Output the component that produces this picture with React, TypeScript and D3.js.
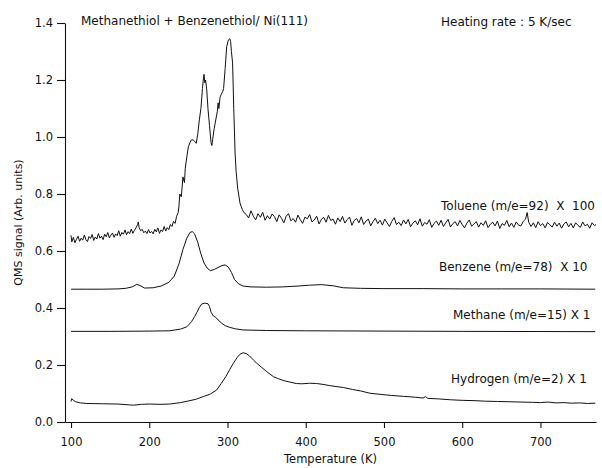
import React, { useEffect, useRef } from 'react';
import * as d3 from 'd3';

// temperature (K), signal (arb. units)
const toluene: [number, number][] = [
  [100, 0.655], [101, 0.632], [103, 0.648], [105, 0.629], [107, 0.641], [109, 0.652], [111, 0.634],
  [113, 0.645], [115, 0.638], [117, 0.656], [119, 0.64], [121, 0.633], [123, 0.651], [125, 0.644],
  [127, 0.658], [129, 0.637], [131, 0.649], [133, 0.642], [135, 0.661], [137, 0.645], [139, 0.652],
  [141, 0.64], [143, 0.659], [145, 0.65], [147, 0.665], [149, 0.646], [151, 0.656], [153, 0.663],
  [155, 0.648], [157, 0.66], [159, 0.654], [161, 0.671], [163, 0.652], [165, 0.665], [167, 0.659],
  [169, 0.674], [171, 0.657], [173, 0.668], [175, 0.661], [177, 0.677], [179, 0.662], [181, 0.672],
  [183, 0.681], [185, 0.692], [186, 0.702], [187, 0.683], [189, 0.671], [191, 0.676], [193, 0.664],
  [195, 0.67], [197, 0.661], [199, 0.675], [201, 0.663], [203, 0.669], [205, 0.66], [207, 0.676],
  [209, 0.667], [211, 0.681], [213, 0.662], [215, 0.674], [217, 0.668], [219, 0.686], [221, 0.67],
  [223, 0.682], [225, 0.675], [227, 0.693], [229, 0.686], [231, 0.704], [233, 0.697], [235, 0.722],
  [237, 0.735], [238, 0.758],
  [239, 0.8], [241, 0.79], [243, 0.86], [245, 0.84], [246, 0.89], [248, 0.93], [250, 0.966],
  [252, 0.98], [254, 0.99], [256, 0.99], [258, 0.985], [260, 0.978], [262, 1.01], [264, 1.06],
  [266, 1.1], [268, 1.17], [269, 1.2], [270, 1.22], [271, 1.19], [272, 1.2], [273.5, 1.165],
  [275, 1.1], [277, 1.04], [279, 0.98], [280, 0.97], [281, 0.99], [283, 1.03], [285, 1.06],
  [287, 1.09], [288, 1.12], [289, 1.1], [290.5, 1.14], [292, 1.15], [294, 1.16], [295, 1.17],
  [297, 1.24], [299, 1.317], [301, 1.34], [303, 1.345], [304, 1.335], [305, 1.3], [306.5, 1.26],
  [308, 1.1], [309.7, 0.944], [311, 0.88], [313, 0.82], [316, 0.768], [319, 0.745], [321, 0.735],
  [324, 0.728], [327, 0.716], [330, 0.741], [333, 0.722], [336, 0.709], [339, 0.731], [342, 0.718],
  [345, 0.736], [348, 0.708], [351, 0.724], [354, 0.712], [357, 0.73], [360, 0.721], [363, 0.703],
  [366, 0.727], [369, 0.715], [372, 0.699], [375, 0.722], [378, 0.731], [381, 0.706], [384, 0.714],
  [387, 0.701], [390, 0.726], [393, 0.71], [396, 0.697], [399, 0.719], [402, 0.713], [405, 0.728],
  [408, 0.702], [411, 0.709], [414, 0.722], [417, 0.695], [420, 0.711], [423, 0.718], [426, 0.701],
  [429, 0.725], [432, 0.707], [435, 0.712], [438, 0.694], [441, 0.716], [444, 0.703], [447, 0.721],
  [450, 0.698], [453, 0.71], [456, 0.719], [459, 0.69], [462, 0.707], [465, 0.714], [468, 0.699],
  [471, 0.72], [474, 0.693], [477, 0.705], [480, 0.712], [483, 0.688], [486, 0.703], [489, 0.715],
  [492, 0.696], [495, 0.708], [498, 0.691], [501, 0.712], [504, 0.699], [507, 0.686], [510, 0.704],
  [513, 0.717], [516, 0.693], [519, 0.701], [522, 0.689], [525, 0.709], [528, 0.695], [531, 0.711],
  [534, 0.685], [537, 0.698], [540, 0.706], [543, 0.692], [546, 0.713], [549, 0.687], [552, 0.7],
  [555, 0.694], [558, 0.71], [561, 0.683], [564, 0.697], [567, 0.705], [570, 0.69], [573, 0.708],
  [576, 0.686], [579, 0.699], [582, 0.711], [585, 0.684], [588, 0.696], [591, 0.703], [594, 0.688],
  [597, 0.707], [600, 0.693], [603, 0.681], [606, 0.698], [609, 0.709], [612, 0.687], [615, 0.695],
  [618, 0.703], [621, 0.684], [624, 0.699], [627, 0.69], [630, 0.706], [633, 0.682], [636, 0.694],
  [639, 0.701], [642, 0.688], [645, 0.705], [648, 0.679], [651, 0.696], [654, 0.69], [657, 0.707],
  [660, 0.685], [663, 0.698], [666, 0.683], [669, 0.702], [672, 0.691], [675, 0.688], [678, 0.704],
  [681, 0.712], [683, 0.735], [685, 0.701], [688, 0.686], [691, 0.699], [694, 0.682], [697, 0.703],
  [700, 0.689], [703, 0.696], [706, 0.681], [709, 0.7], [712, 0.692], [715, 0.684], [718, 0.701],
  [721, 0.687], [724, 0.698], [727, 0.68], [730, 0.695], [733, 0.702], [736, 0.685], [739, 0.697],
  [742, 0.681], [745, 0.699], [748, 0.69], [751, 0.683], [754, 0.702], [757, 0.688], [760, 0.694],
  [763, 0.68], [766, 0.699], [769, 0.689], [771, 0.693],
];

const benzene: [number, number][] = [
  [100, 0.466], [120, 0.466], [140, 0.466], [160, 0.467], [170, 0.469], [178, 0.474], [184, 0.483],
  [188, 0.479], [194, 0.47], [205, 0.471], [215, 0.477], [225, 0.49], [232, 0.512], [238, 0.555],
  [243, 0.605], [248, 0.645], [252, 0.665], [255, 0.668], [258, 0.66], [262, 0.63], [266, 0.59],
  [270, 0.558], [274, 0.54], [278, 0.531], [283, 0.535], [288, 0.542], [293, 0.549], [297, 0.551],
  [301, 0.544], [305, 0.525], [309, 0.5], [314, 0.485], [320, 0.477], [330, 0.474], [350, 0.473],
  [370, 0.474], [390, 0.477], [405, 0.48], [420, 0.482], [435, 0.478], [448, 0.471], [470, 0.469],
  [500, 0.468], [550, 0.468], [600, 0.467], [650, 0.467], [700, 0.467], [770, 0.466],
];

const methane: [number, number][] = [
  [100, 0.318], [150, 0.318], [200, 0.319], [226, 0.32], [240, 0.326], [248, 0.334], [254, 0.352],
  [258, 0.37], [261, 0.385], [264, 0.402], [267, 0.414], [271, 0.417], [275, 0.415], [277, 0.405],
  [279, 0.385], [282, 0.372], [285, 0.367], [288, 0.358], [292, 0.348], [297, 0.338], [303, 0.332],
  [310, 0.327], [320, 0.323], [350, 0.321], [400, 0.32], [500, 0.319], [600, 0.318], [770, 0.317],
];

const hydrogen: [number, number][] = [
  [100, 0.072], [101, 0.082], [103, 0.076], [106, 0.071], [112, 0.067], [120, 0.065], [140, 0.064],
  [160, 0.063], [175, 0.06], [180, 0.059], [190, 0.062], [200, 0.063], [215, 0.062], [226, 0.063],
  [240, 0.068], [252, 0.075], [260, 0.08], [269, 0.089], [278, 0.098], [286, 0.112], [292, 0.135],
  [298, 0.16], [303, 0.185], [307.5, 0.206], [312, 0.225], [316, 0.238], [320, 0.243], [324, 0.24],
  [328, 0.232], [333, 0.218], [337.5, 0.206], [343, 0.193], [350, 0.177], [358.7, 0.159],
  [365, 0.152], [372, 0.145], [380, 0.14], [388, 0.135], [395, 0.134], [405, 0.136], [414, 0.135],
  [422, 0.132], [430, 0.128], [440, 0.124], [448, 0.121], [460, 0.114], [470, 0.109], [482, 0.101],
  [495, 0.097], [510, 0.093], [525, 0.09], [540, 0.087], [550, 0.084], [553, 0.089], [556, 0.083],
  [570, 0.081], [585, 0.078], [600, 0.076], [615, 0.075], [630, 0.073], [645, 0.072], [660, 0.071],
  [675, 0.07], [690, 0.069], [700, 0.068], [710, 0.07], [720, 0.067], [730, 0.068], [740, 0.066],
  [750, 0.067], [760, 0.065], [770, 0.066],
];

const xTicks = [100, 200, 300, 400, 500, 600, 700];
const yTicks = [0, 0.2, 0.4, 0.6, 0.8, 1.0, 1.2, 1.4];

const title = 'Methanethiol + Benzenethiol/ Ni(111)';
const rateNote = 'Heating rate : 5 K/sec';
const curveLabels = [
  'Toluene (m/e=92)  X  100',
  'Benzene (m/e=78)  X 10',
  'Methane (m/e=15) X 1',
  'Hydrogen (m/e=2) X 1',
];

const font = 'DejaVu Sans, Verdana, sans-serif';

export default function App() {
  const svgRef = useRef<SVGSVGElement>(null);

  const width = 602;
  const height = 468;

  const x = d3.scaleLinear().domain([92.3, 771]).range([65, 596]);
  const y = d3.scaleLinear().domain([0, 1.4]).range([422, 23]);

  useEffect(() => {
    const svg = d3.select(svgRef.current);
    svg.selectAll('*').remove();

    const gx = svg
      .append('g')
      .attr('transform', `translate(0, ${y(0)})`)
      .call(
        d3
          .axisBottom(x)
          .tickValues(xTicks)
          .tickFormat((d) => String(d))
          .tickSize(6)
          .tickSizeOuter(0)
          .tickPadding(10)
      );
    gx.attr('font-family', font).attr('font-size', 11.5);

    const gy = svg
      .append('g')
      .attr('transform', `translate(${x.range()[0]}, 0)`)
      .call(
        d3
          .axisLeft(y)
          .tickValues(yTicks)
          .tickFormat(d3.format('.1f'))
          .tickSize(8)
          .tickSizeOuter(0)
          .tickPadding(4)
      );
    gy.attr('font-family', font).attr('font-size', 11.5);

    svg.selectAll('.domain, .tick line').attr('stroke', '#111').attr('stroke-width', 1.1);
    svg.selectAll('.tick text').attr('fill', '#111');

    const line = d3
      .line<[number, number]>()
      .x((d) => x(d[0]))
      .y((d) => y(d[1]));

    svg
      .append('g')
      .selectAll('path')
      .data([toluene, benzene, methane, hydrogen])
      .enter()
      .append('path')
      .attr('d', (d) => line(d))
      .attr('fill', 'none')
      .attr('stroke', '#111')
      .attr('stroke-width', 1)
      .attr('stroke-linejoin', 'round');

    const labelPos = [
      [441, 210],
      [439, 271],
      [453, 319],
      [451, 383],
    ];
    svg
      .append('g')
      .selectAll('text')
      .data(curveLabels)
      .enter()
      .append('text')
      .attr('x', (_, i) => labelPos[i][0])
      .attr('y', (_, i) => labelPos[i][1])
      .attr('font-family', font)
      .attr('font-size', 12)
      .attr('fill', '#111')
      .style('white-space', 'pre')
      .text((d) => d);

    svg
      .append('text')
      .attr('x', 81)
      .attr('y', 25)
      .attr('font-family', font)
      .attr('font-size', 12)
      .attr('fill', '#111')
      .text(title);

    svg
      .append('text')
      .attr('x', 441)
      .attr('y', 26)
      .attr('font-family', font)
      .attr('font-size', 12)
      .attr('fill', '#111')
      .text(rateNote);

    svg
      .append('text')
      .attr('x', (x.range()[0] + x.range()[1]) / 2)
      .attr('y', 463)
      .attr('text-anchor', 'middle')
      .attr('font-family', font)
      .attr('font-size', 11.5)
      .attr('fill', '#111')
      .text('Temperature (K)');

    svg
      .append('text')
      .attr('transform', `translate(18, ${(y(0) + y(1.4)) / 2}) rotate(-90)`)
      .attr('text-anchor', 'middle')
      .attr('dominant-baseline', 'central')
      .attr('font-family', font)
      .attr('font-size', 11)
      .attr('fill', '#111')
      .text('QMS signal (Arb. units)');
  }, []);

  return (
    <svg
      ref={svgRef}
      width={width}
      height={height}
      style={{ position: 'absolute', left: 0, top: 0, background: '#fff' }}
    />
  );
}
